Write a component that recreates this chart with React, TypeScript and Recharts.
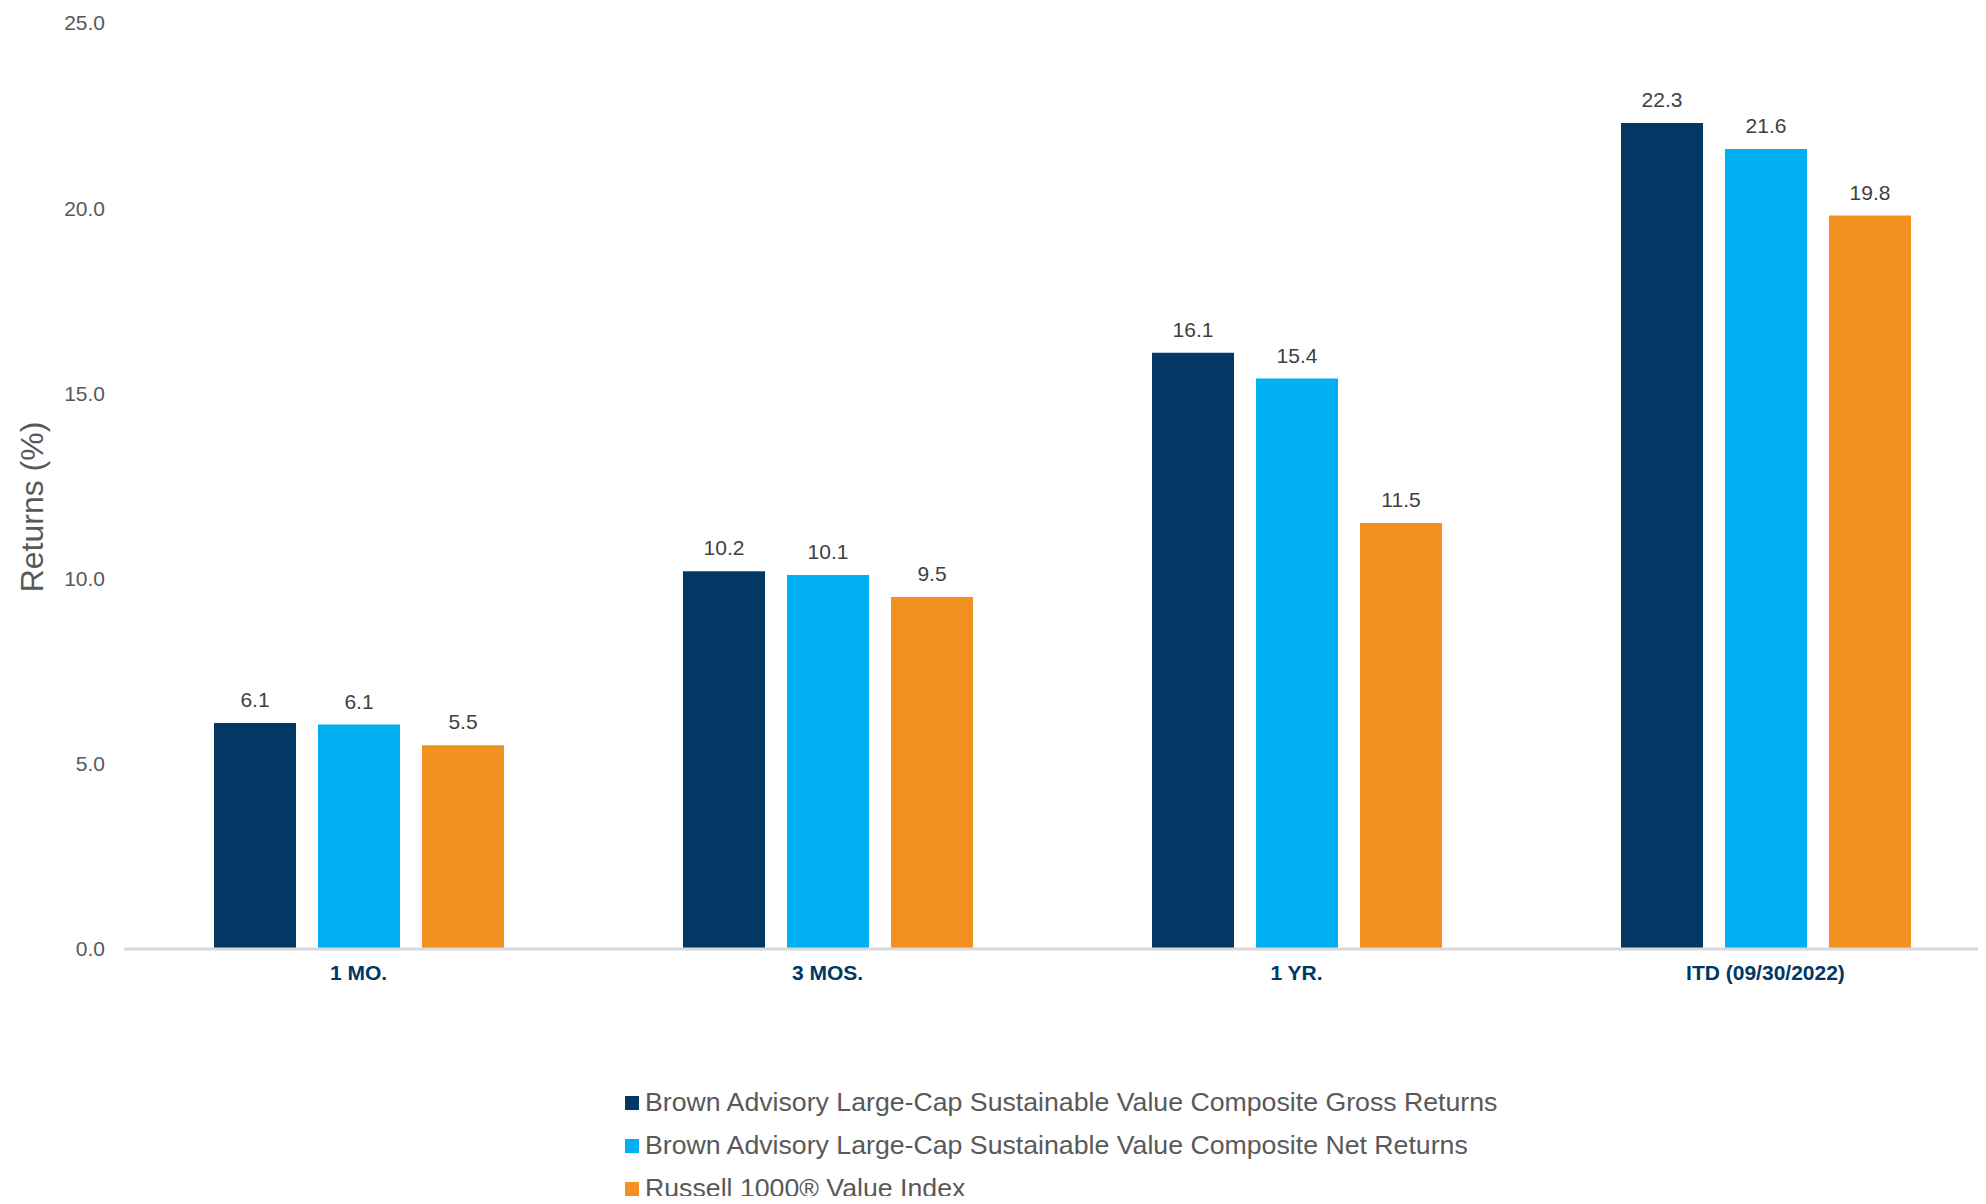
import { BarChart, Bar, XAxis, YAxis, LabelList, Legend } from "recharts";

const categories = ["1 MO.", "3 MOS.", "1 YR.", "ITD (09/30/2022)"];
const grossReturns = [6.1, 10.2, 16.1, 22.3];
const netReturns = [6.06, 10.1, 15.4, 21.6];
const russellValue = [5.5, 9.5, 11.5, 19.8];
const yTicks = [0, 5, 10, 15, 20, 25];

const seriesNames = [
  "Brown Advisory Large-Cap Sustainable Value Composite Gross Returns",
  "Brown Advisory Large-Cap Sustainable Value Composite Net Returns",
  "Russell 1000® Value Index",
];
const colors = ["#033864", "#00b0f0", "#f29020"];

const data = categories.map((name, i) => ({
  name,
  gross: grossReturns[i],
  net: netReturns[i],
  russell: russellValue[i],
}));

const FONT = "'Liberation Sans', Arial, sans-serif";

function LegendBox() {
  return (
    <div style={{ fontFamily: FONT }}>
      {seriesNames.map((s, i) => (
        <div
          key={s}
          style={{ display: "flex", alignItems: "center", height: 43 }}
        >
          <span
            style={{
              width: 14,
              height: 14,
              background: colors[i],
              marginRight: 6,
              display: "inline-block",
              flexShrink: 0,
            }}
          />
          <span
            style={{ fontSize: 26.7, color: "#595959", whiteSpace: "nowrap" }}
          >
            {s}
          </span>
        </div>
      ))}
    </div>
  );
}

export default function App() {
  const fmt = (v: number) => v.toFixed(1);
  return (
    <div
      style={{
        width: 1986,
        height: 1204,
        overflow: "hidden",
        margin: -8,
        background: "#fff",
        position: "relative",
      }}
    >
      <BarChart
        width={2000}
        height={1204}
        data={data}
        margin={{ top: 23, right: 0, left: 0, bottom: 215 }}
        barSize={82}
        barGap={22}
      >
        <XAxis
          dataKey="name"
          height={40}
          tickLine={false}
          axisLine={{ stroke: "#d9d9d9", strokeWidth: 3 }}
          tickMargin={10}
          tick={{
            fill: "#003764",
            fontSize: 21,
            fontWeight: "bold",
            fontFamily: FONT,
          }}
        />
        <YAxis
          width={124}
          domain={[0, 25]}
          ticks={yTicks}
          tickFormatter={fmt}
          tickLine={false}
          axisLine={false}
          tickMargin={13}
          tick={{ fill: "#595959", fontSize: 21, fontFamily: FONT }}
          label={{
            content: ({ viewBox }: any) => {
              const cy = viewBox.y + viewBox.height / 2 + 21;
              return (
                <text
                  x={32}
                  y={cy}
                  transform={`rotate(-90 32 ${cy})`}
                  textAnchor="middle"
                  dominantBaseline="central"
                  fill="#595959"
                  fontSize={32}
                  fontFamily={FONT}
                >
                  Returns (%)
                </text>
              );
            },
          }}
        />
        <Legend
          layout="vertical"
          align="center"
          verticalAlign="middle"
          wrapperStyle={{ left: 625, top: 1081, width: "auto" }}
          content={() => <LegendBox />}
        />
        {(["gross", "net", "russell"] as const).map((key, i) => (
          <Bar
            key={key}
            dataKey={key}
            name={seriesNames[i]}
            fill={colors[i]}
            isAnimationActive={false}
          >
            <LabelList
              dataKey={key}
              position="top"
              offset={16}
              formatter={(v: any) => fmt(Number(v))}
              fill="#404040"
              fontSize={21}
              fontFamily={FONT}
            />
          </Bar>
        ))}
      </BarChart>
    </div>
  );
}
